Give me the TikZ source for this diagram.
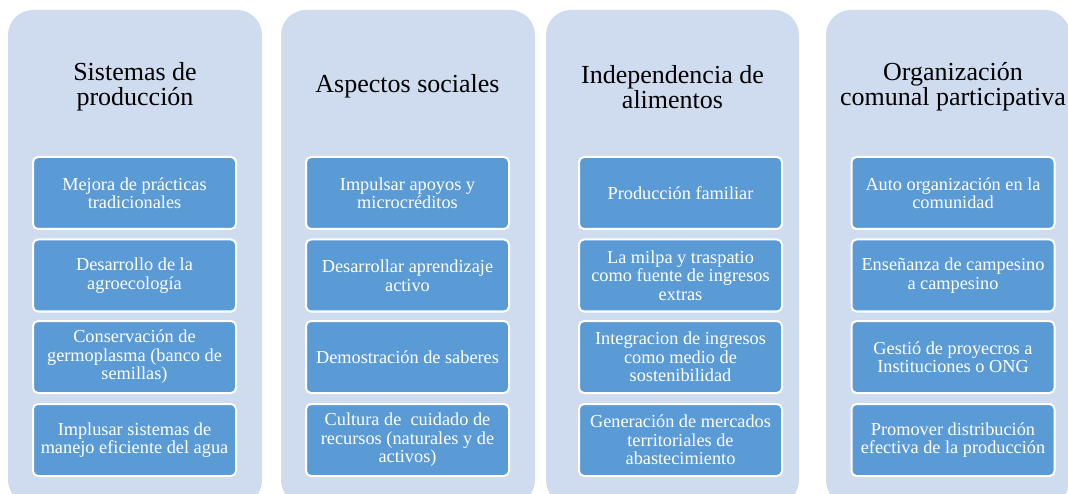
\documentclass[tikz,border=0pt]{standalone}
\usepackage{fontspec}
\setmainfont{Liberation Serif}
\definecolor{panelbg}{HTML}{CFDBEE}
\definecolor{boxbg}{HTML}{5B9BD5}
\tikzset{
  panel/.style={fill=panelbg, rounded corners=25pt},
  titlenode/.style={align=center, text=black, inner sep=0pt, font=\fontsize{26}{25}\selectfont},
  itembox/.style={rectangle, rounded corners=5pt, draw=white, line width=2pt, fill=boxbg,
    text=white, align=center, minimum width=203pt, minimum height=72pt, inner sep=0pt,
    font=\fontsize{18.3}{18.5}\selectfont}
}
\begin{document}
\begin{tikzpicture}[x=1pt,y=-1pt]
\useasboundingbox (0,0) rectangle (1068,494);
\clip (0,0) rectangle (1068,494);
% panels
\path[panel] (8,10) rectangle (262,505);
\path[panel] (281,10) rectangle (535,505);
\path[panel] (546,10) rectangle (799,505);
\path[panel] (826,10) rectangle (1070,505);
% titles
\node[titlenode] (t1) at (135,87) {Sistemas de\\producción};
\node[titlenode] (t2) at (407.5,86) {Aspectos sociales};
\node[titlenode] (t3) at (672.5,87) {Independencia de\\alimentos};
\node[titlenode] (t4) at (953,87) {Organización\\comunal participativa};
% column 1
\node[itembox] (b11) at (134.5,193) {Mejora de prácticas\\tradicionales};
\node[itembox] (b12) at (134.5,275.5) {Desarrollo de la\\agroecología};
\node[itembox] (b13) at (134.5,357) {Conservación de\\germoplasma (banco de\\semillas)};
\node[itembox] (b14) at (134.5,440) {Implusar sistemas de\\manejo eficiente del agua};
% column 2
\node[itembox] (b21) at (407.5,193) {Impulsar apoyos y\\microcréditos};
\node[itembox] (b22) at (407.5,275.5) {Desarrollar aprendizaje\\activo};
\node[itembox] (b23) at (407.5,357) {Demostración de saberes};
\node[itembox] (b24) at (407.5,440) {Cultura de\ \ cuidado de\\recursos (naturales y de\\activos)};
% column 3
\node[itembox] (b31) at (680.5,193) {Producción familiar};
\node[itembox] (b32) at (680.5,275.5) {La milpa y traspatio\\como fuente de ingresos\\extras};
\node[itembox] (b33) at (680.5,357) {Integracion de ingresos\\como medio de\\sostenibilidad};
\node[itembox] (b34) at (680.5,440) {Generación de mercados\\territoriales de\\abastecimiento};
% column 4
\node[itembox] (b41) at (953,193) {Auto organización en la\\comunidad};
\node[itembox] (b42) at (953,275.5) {Enseñanza de campesino\\a campesino};
\node[itembox] (b43) at (953,357) {Gestió de proyecros a\\Instituciones o ONG};
\node[itembox] (b44) at (953,440) {Promover distribución\\efectiva de la producción};
\end{tikzpicture}
\end{document}
